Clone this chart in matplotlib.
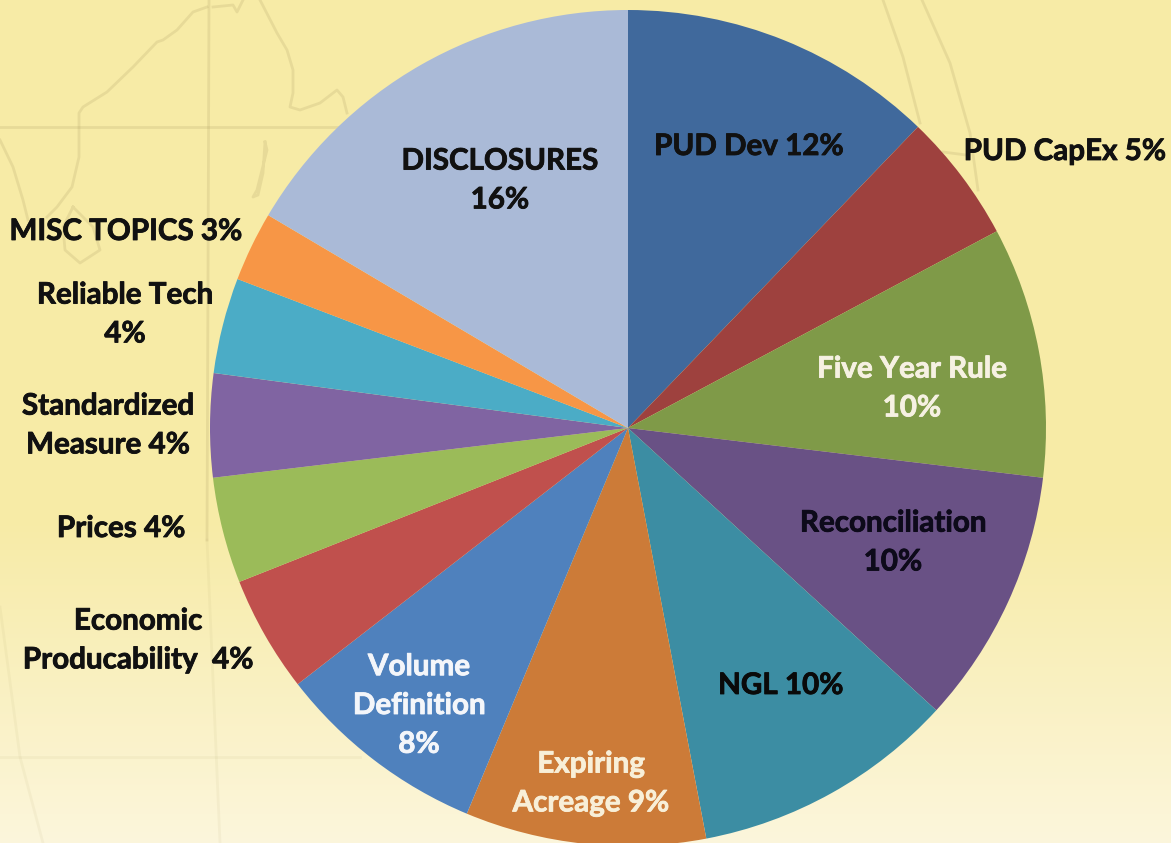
import numpy as np
import matplotlib.pyplot as plt
import matplotlib.colors as mcolors
import matplotlib.patheffects as pe

plt.rcParams["font.family"] = ["Lato", "DejaVu Sans"]

labels = ["PUD Dev 12%", "PUD CapEx 5%", "Five Year Rule\n10%", "Reconciliation\n10%",
          "NGL 10%", "Expiring\nAcreage 9%", "Volume\nDefinition\n8%",
          "Economic\nProducability  4%", "Prices 4%", "Standardized\nMeasure 4%",
          "Reliable Tech\n4%", "MISC TOPICS 3%", "DISCLOSURES\n16%"]
# slice sizes (they run a bit off the printed percentages)
values = [12.2, 5.0, 9.7, 9.9, 10.2, 9.3, 8.2, 4.5, 4.1, 4.0, 3.7, 2.7, 16.5]
colors = ["#40699c", "#9e413e", "#7f9a48", "#695185", "#3c8da3", "#cc7b38", "#4f81bd",
          "#c0504d", "#9bbb59", "#8064a2", "#4bacc6", "#f79646", "#aabad7"]
text_colors = ["#111111", "#111111", "#f6f1e2", "#0d0a1a", "#0a0a0a", "#f8efd8", "#f4f6fa",
               "#111111", "#111111", "#111111", "#111111", "#111111", "#111111"]
label_x = [749, 1065, 912, 893, 781, 591, 419, 138, 121, 108, 125, 126, 500]
label_y = [146, 151, 388, 542, 685, 783, 705, 640, 528, 425, 314, 231, 180]

# faint map behind the chart, in pixels of the picture
map_lines = [
    [(207, 7), (193, 12), (177, 30), (163, 40), (157, 42), (133, 67), (107, 92), (83, 107),
     (79, 113), (79, 157), (72, 187), (57, 207), (47, 217)],
    [(0, 140), (13, 167), (23, 200), (28, 220)],
    [(73, 207), (63, 227), (65, 250), (80, 263), (100, 250), (93, 227), (73, 207)],
    [(213, 7), (233, 5), (237, 12), (243, 0)],
    [(260, 0), (277, 33), (287, 50), (293, 70), (293, 93), (290, 107), (300, 110), (320, 103),
     (337, 90), (343, 97), (347, 113)],
    [(265, 142), (267, 150), (262, 170), (257, 190), (253, 197), (258, 195), (263, 173), (265, 142)],
    [(209, 0), (208, 280), (207, 540)],
    [(0, 127), (340, 127)],
    [(883, 0), (903, 57), (920, 123)],
    [(922, 0), (950, 63), (970, 133), (978, 190)],
    [(943, 152), (966, 155)],
]
# the part of the map that fades out towards the bottom
faded_lines = [
    [(207, 540), (220, 843)],
    [(0, 757), (360, 757)],
    [(0, 607), (20, 757), (43, 843)],
]

fig = plt.figure(figsize=(11.71, 8.43), dpi=100)
ax = fig.add_axes([0, 0, 1, 1])

# background runs from flat yellow to pale cream at the bottom
top = np.array(mcolors.to_rgb("#f7eba6"))
bottom = np.array(mcolors.to_rgb("#fcf6dc"))
t = np.clip((np.arange(843) - 520) / 323, 0, 1)[:, None, None]
gradient = top[None, None, :] * (1 - t) + bottom[None, None, :] * t
ax.imshow(gradient, extent=(0, 1171, 0, 843), origin="upper", aspect="auto", zorder=0)

for line in map_lines:
    xs, ys = zip(*line)
    ax.plot(xs, [843 - y for y in ys], color="#a89a60", alpha=0.2, lw=2, zorder=1)
for line in faded_lines:
    xs, ys = zip(*line)
    ax.plot(xs, [843 - y for y in ys], color="#a89a60", alpha=0.08, lw=2, zorder=1)

ax.pie(values, colors=colors, startangle=90, counterclock=False, center=(628, 415),
       radius=418, frame=True, wedgeprops={"linewidth": 0, "zorder": 2})

for lab, x, y, c in zip(labels, label_x, label_y, text_colors):
    ax.text(x, 843 - y, lab, color=c, fontsize=21.3, fontweight="bold", ha="center", va="center",
            linespacing=1.47, zorder=5,
            path_effects=[pe.withStroke(linewidth=0.6, foreground=c)])

ax.set_xlim(0, 1171)
ax.set_ylim(0, 843)
ax.set_aspect("auto")
ax.axis("off")

fig.savefig("out.png", dpi=100)
